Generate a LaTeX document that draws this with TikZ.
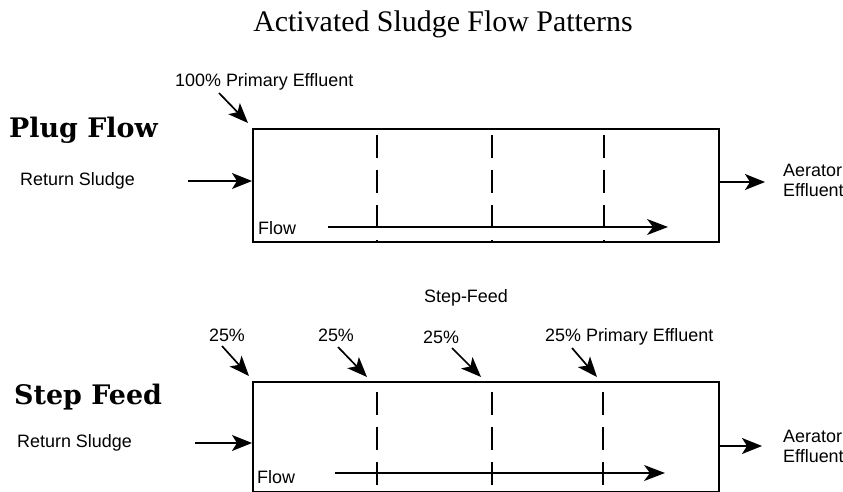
\documentclass[tikz,border=0pt]{standalone}
\usepackage{fontspec}
\setmainfont{Liberation Serif}
\newfontfamily\labelfont{Liberation Sans}
\newfontfamily\headfont{DejaVu Serif}
\usetikzlibrary{positioning,arrows.meta}

\begin{document}
\begin{tikzpicture}[x=1bp, y=-1bp,
		every node/.style={inner sep=0pt},
		lbl/.style={font=\labelfont\fontsize{18}{20}\selectfont, anchor=west},
		head/.style={font=\headfont\bfseries\fontsize{27}{30}\selectfont, anchor=west},
		tank/.style={draw, line width=1.8bp, minimum width=466bp, anchor=north west},
		feed/.style={line width=1.7bp, -{Stealth[length=20bp, width=16bp, inset=5bp]}},
		wall/.style={line width=1.8bp, dash pattern=on 23bp off 12bp}]
		\useasboundingbox (0,0) rectangle (843,492);
		
		% Title
		\node[font=\fontsize{30}{34}\selectfont] (title) at (443,24) {Activated Sludge Flow Patterns};
		
		% ===== PLUG FLOW =====
		\node[head] (plughead) at (9,130) {Plug Flow};
		\node[tank, minimum height=113bp] (plug) at (252,128) {};
		\foreach \x in {377,492,604}
			\draw[wall] (\x,135) -- (\x,241);
		
		% Primary effluent at the head end
		\node[lbl] (plugprim) at (175,82) {100\% Primary Effluent};
		\coordinate (plugprimA) at (219,93);
		\coordinate (plugprimB) at (248,123);
		\draw[feed] (plugprimA) -- (plugprimB);
		
		% Return sludge
		\node[lbl] (plugret) at (20,181) {Return Sludge};
		\coordinate (plugretA) at (188,181);
		\draw[feed] (plugretA) -- (plugretA -| plug.west);
		
		% Aerator effluent
		\coordinate (plugout) at (765,182);
		\draw[feed] (plugout -| plug.east) -- (plugout);
		\node[lbl, align=left] (plugeff) at (783,180) {Aerator\\Effluent};
		
		% Flow direction
		\node[lbl] (plugflow) at (258,228) {Flow};
		\coordinate (plugflowA) at (328,227);
		\coordinate (plugflowB) at (668,227);
		\draw[feed, line width=1.4bp, -{Stealth[length=21bp, width=16bp, inset=6bp]}] (plugflowA) -- (plugflowB);
		
		% ===== STEP FEED =====
		\node[lbl, anchor=center] (steptitle) at (466,298) {Step-Feed};
		\node[head] (stephead) at (14,397) {Step Feed};
		\node[tank, minimum height=110bp] (step) at (252,381) {};
		\foreach \x in {377,492,603}
			\draw[wall] (\x,392) -- (\x,491);
		
		% Primary effluent split in four
		\node[lbl, anchor=center] (stepprimA) at (227,335) {25\%};
		\node[lbl, anchor=center] (stepprimB) at (336,335) {25\%};
		\node[lbl, anchor=center] (stepprimC) at (441,337) {25\%};
		\node[lbl] (stepprimD) at (545,337) {25\% Primary Effluent};
		\coordinate (stepinA) at (222,346);
		\coordinate (stepinB) at (338,347);
		\coordinate (stepinC) at (452,348);
		\coordinate (stepinD) at (572,348);
		\coordinate (stepatA) at (249,376);
		\coordinate (stepatB) at (367,377);
		\coordinate (stepatC) at (481,377);
		\coordinate (stepatD) at (597,377);
		\draw[feed] (stepinA) -- (stepatA);
		\draw[feed] (stepinB) -- (stepatB);
		\draw[feed] (stepinC) -- (stepatC);
		\draw[feed] (stepinD) -- (stepatD);
		
		% Return sludge
		\node[lbl] (stepret) at (17,443) {Return Sludge};
		\coordinate (stepretA) at (195,443);
		\draw[feed] (stepretA) -- (stepretA -| step.west);
		
		% Aerator effluent
		\coordinate (stepout) at (762,446);
		\draw[feed] (stepout -| step.east) -- (stepout);
		\node[lbl, align=left] (stepeff) at (783,446) {Aerator\\Effluent};
		
		% Flow direction
		\node[lbl] (stepflow) at (257,477) {Flow};
		\coordinate (stepflowA) at (335,473);
		\coordinate (stepflowB) at (665,473);
		\draw[feed, line width=1.4bp, -{Stealth[length=21bp, width=16bp, inset=6bp]}] (stepflowA) -- (stepflowB);
		
	\end{tikzpicture}
\end{document}
